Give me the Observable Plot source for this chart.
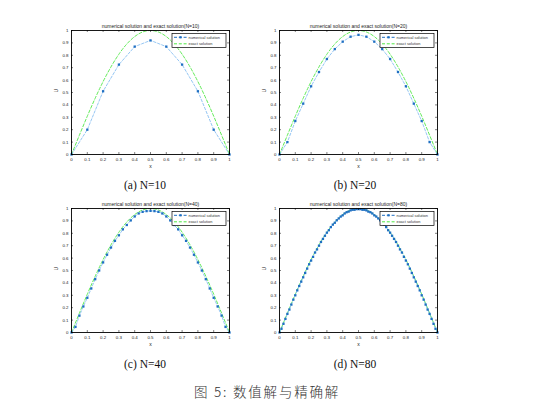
<!DOCTYPE html>
<html><head><meta charset="utf-8">
<script src="https://cdn.jsdelivr.net/npm/d3@7"></script>
<script src="https://cdn.jsdelivr.net/npm/@observablehq/plot@0.6"></script>
<style>
body{margin:0;background:#fff;}
#root{position:relative;width:542px;height:416px;overflow:hidden;background:#fff}
.panel{position:absolute}
.panel svg{overflow:visible}
.cap{position:absolute;font-family:"Liberation Serif","DejaVu Serif",serif;font-size:11.5px;color:#111;transform:translateX(-50%);white-space:nowrap;line-height:1}
.fig{position:absolute;font-family:"Noto Sans CJK SC",sans-serif;font-size:13.5px;font-weight:300;color:#333;transform:translateX(-50%);white-space:nowrap;line-height:1;letter-spacing:1.8px}
</style></head><body><div id="root"></div>
<script>
// ---- data ----
const ticks = [0, 0.1, 0.2, 0.3, 0.4, 0.5, 0.6, 0.7, 0.8, 0.9, 1];
const tickLabels = ["0", "0.1", "0.2", "0.3", "0.4", "0.5", "0.6", "0.7", "0.8", "0.9", "1"];
const subCaptions = ["(a) N=10", "(b) N=20", "(c) N=40", "(d) N=80"];
const figCaption = "图 5: 数值解与精确解";
const seriesNames = ["numerical solution", "exact solution"];

// exact solution (x step 0.05)
const xExact = [0, 0.05, 0.1, 0.15, 0.2, 0.25, 0.3, 0.35, 0.4, 0.45, 0.5, 0.55, 0.6, 0.65, 0.7, 0.75, 0.8, 0.85, 0.9, 0.95, 1];
const uExact = [0, 0.156, 0.309, 0.454, 0.588, 0.707, 0.809, 0.891, 0.951, 0.988, 1, 0.988, 0.951, 0.891, 0.809, 0.707, 0.588, 0.454, 0.309, 0.156, 0];

// numerical solutions on grids of N intervals
const gridN = [10, 20, 40, 80];
const u10 = [0, 0.20, 0.51, 0.725, 0.87, 0.92, 0.87, 0.725, 0.51, 0.20, 0];
const u20 = [0, 0.10, 0.27, 0.41, 0.55, 0.665, 0.77, 0.85, 0.91, 0.95, 0.965, 0.95, 0.91, 0.85, 0.77, 0.665, 0.55, 0.41, 0.27, 0.10, 0];
const u40 = [0, 0.045, 0.136, 0.21, 0.28, 0.355, 0.43, 0.5, 0.565, 0.627, 0.685, 0.739, 0.784, 0.832, 0.867, 0.904, 0.936, 0.96, 0.973, 0.979, 0.981,
             0.979, 0.973, 0.96, 0.936, 0.904, 0.867, 0.832, 0.784, 0.739, 0.685, 0.627, 0.565, 0.5, 0.43, 0.355, 0.28, 0.21, 0.136, 0.045, 0];
const u80 = [0, 0.03, 0.07, 0.11, 0.15, 0.185, 0.225, 0.265, 0.30, 0.34, 0.375, 0.41, 0.445, 0.48, 0.515, 0.55, 0.58, 0.61, 0.645, 0.67,
             0.70, 0.73, 0.755, 0.78, 0.805, 0.825, 0.85, 0.87, 0.885, 0.905, 0.92, 0.935, 0.945, 0.96, 0.97, 0.975, 0.985, 0.99, 0.99, 0.995,
             0.995,
             0.995, 0.99, 0.99, 0.985, 0.975, 0.97, 0.96, 0.945, 0.935, 0.92, 0.905, 0.885, 0.87, 0.85, 0.825, 0.805, 0.78, 0.755, 0.73, 0.70,
             0.67, 0.645, 0.61, 0.58, 0.55, 0.515, 0.48, 0.445, 0.41, 0.375, 0.34, 0.30, 0.265, 0.225, 0.185, 0.15, 0.11, 0.07, 0.03, 0];
const numSeries = [u10, u20, u40, u80];

// ---- style ----
const C_MARK = "#1f6fc2", C_NUM = "#7ab8f0", C_EXACT = "#4fe845";
const FONT = "'Liberation Sans', Arial, sans-serif";

const root = document.getElementById("root");
const layout = [
  {fx: 70.5, fy: 29.5, cx: 145, cy: 180},
  {fx: 278.5, fy: 29.5, cx: 355, cy: 180},
  {fx: 70.5, fy: 207.5, cx: 145, cy: 359},
  {fx: 278.5, fy: 207.5, cx: 355, cy: 359}
];
const FW = 158, FH = 124, ML = 26, MT = 14, MR = 6, MB = 24;

function legend(index, scales, values, dims) {
  const g = d3.create("svg:g");
  const w = 54, h = 14;
  const x0 = dims.width - dims.marginRight - 3 - w, y0 = dims.marginTop + 3.5;
  g.append("rect").attr("x", x0).attr("y", y0).attr("width", w).attr("height", h)
    .attr("fill", "#fff").attr("stroke", "#000").attr("stroke-width", 0.7);
  const rows = [{y: y0 + 3.8, m: true, t: seriesNames[0]}, {y: y0 + 10.3, m: false, t: seriesNames[1]}];
  for (const r of rows) {
    g.append("line").attr("x1", x0 + 2).attr("x2", x0 + 15).attr("y1", r.y).attr("y2", r.y)
      .attr("stroke", r.m ? C_MARK : C_EXACT).attr("stroke-width", 1).attr("stroke-dasharray", "3,1.8");
    if (r.m) g.append("rect").attr("x", x0 + 7.4).attr("y", r.y - 1.1).attr("width", 2.2).attr("height", 2.2).attr("fill", C_MARK);
    g.append("text").attr("x", x0 + 16.5).attr("y", r.y).attr("dy", "0.35em").attr("text-anchor", "start")
      .attr("font-size", 3.9).attr("fill", "#333").attr("font-family", FONT).text(r.t);
  }
  return g.node();
}

gridN.forEach((N, k) => {
  const L = layout[k];
  const num = numSeries[k].map((u, i) => ({x: i / N, u}));
  const exact = xExact.map((x, i) => ({x, u: uExact[i]}));
  const fmt = d => tickLabels[ticks.indexOf(d)];
  const chart = Plot.plot({
    width: ML + FW + MR, height: MT + FH + MB,
    marginLeft: ML, marginTop: MT, marginRight: MR, marginBottom: MB,
    style: {fontFamily: FONT, background: "transparent", color: "#222"},
    x: {domain: [0, 1]},
    y: {domain: [0, 1]},
    marks: [
      Plot.line(exact, {x: "x", y: "u", stroke: C_EXACT, strokeWidth: 0.9, strokeDasharray: "3,2", curve: "natural"}),
      Plot.line(num, {x: "x", y: "u", stroke: C_NUM, strokeWidth: 0.8, strokeDasharray: "2.5,1.8"}),
      Plot.dot(num, {x: "x", y: "u", symbol: "square", r: 1.3, fill: C_MARK, stroke: "none"}),
      // inward ticks on all four sides
      Plot.ruleX(ticks, {x: d => d, y1: 0, y2: 0.016, stroke: "#000", strokeWidth: 0.5}),
      Plot.ruleX(ticks, {x: d => d, y1: 0.984, y2: 1, stroke: "#000", strokeWidth: 0.5}),
      Plot.ruleY(ticks, {y: d => d, x1: 0, x2: 0.0127, stroke: "#000", strokeWidth: 0.5}),
      Plot.ruleY(ticks, {y: d => d, x1: 0.9873, x2: 1, stroke: "#000", strokeWidth: 0.5}),
      Plot.frame({stroke: "#000", strokeWidth: 0.9}),
      Plot.axisX({ticks, tickFormat: fmt, tickSize: 0, tickPadding: 3, fontSize: 4.4, label: null}),
      Plot.axisY({ticks, tickFormat: fmt, tickSize: 0, tickPadding: 3, fontSize: 4.4, label: null}),
      Plot.text([`numerical solution and exact solution(N=${N})`], {frameAnchor: "top", dy: -2.5, lineAnchor: "bottom", fontSize: 5, fill: "#222"}),
      Plot.text(["x"], {frameAnchor: "bottom", dy: 9.5, lineAnchor: "top", fontSize: 5, fill: "#222"}),
      Plot.text(["U"], {frameAnchor: "left", dx: -15.5, rotate: -90, fontSize: 5, fill: "#222"}),
      legend
    ]
  });
  const div = document.createElement("div");
  div.className = "panel";
  div.style.left = (L.fx - ML) + "px";
  div.style.top = (L.fy - MT) + "px";
  div.appendChild(chart);
  root.appendChild(div);
  const cap = document.createElement("div");
  cap.className = "cap";
  cap.style.left = L.cx + "px";
  cap.style.top = L.cy + "px";
  cap.textContent = subCaptions[k];
  root.appendChild(cap);
});
const fig = document.createElement("div");
fig.className = "fig";
fig.style.left = "267px";
fig.style.top = "385px";
fig.textContent = figCaption;
root.appendChild(fig);
</script>
</body></html>
